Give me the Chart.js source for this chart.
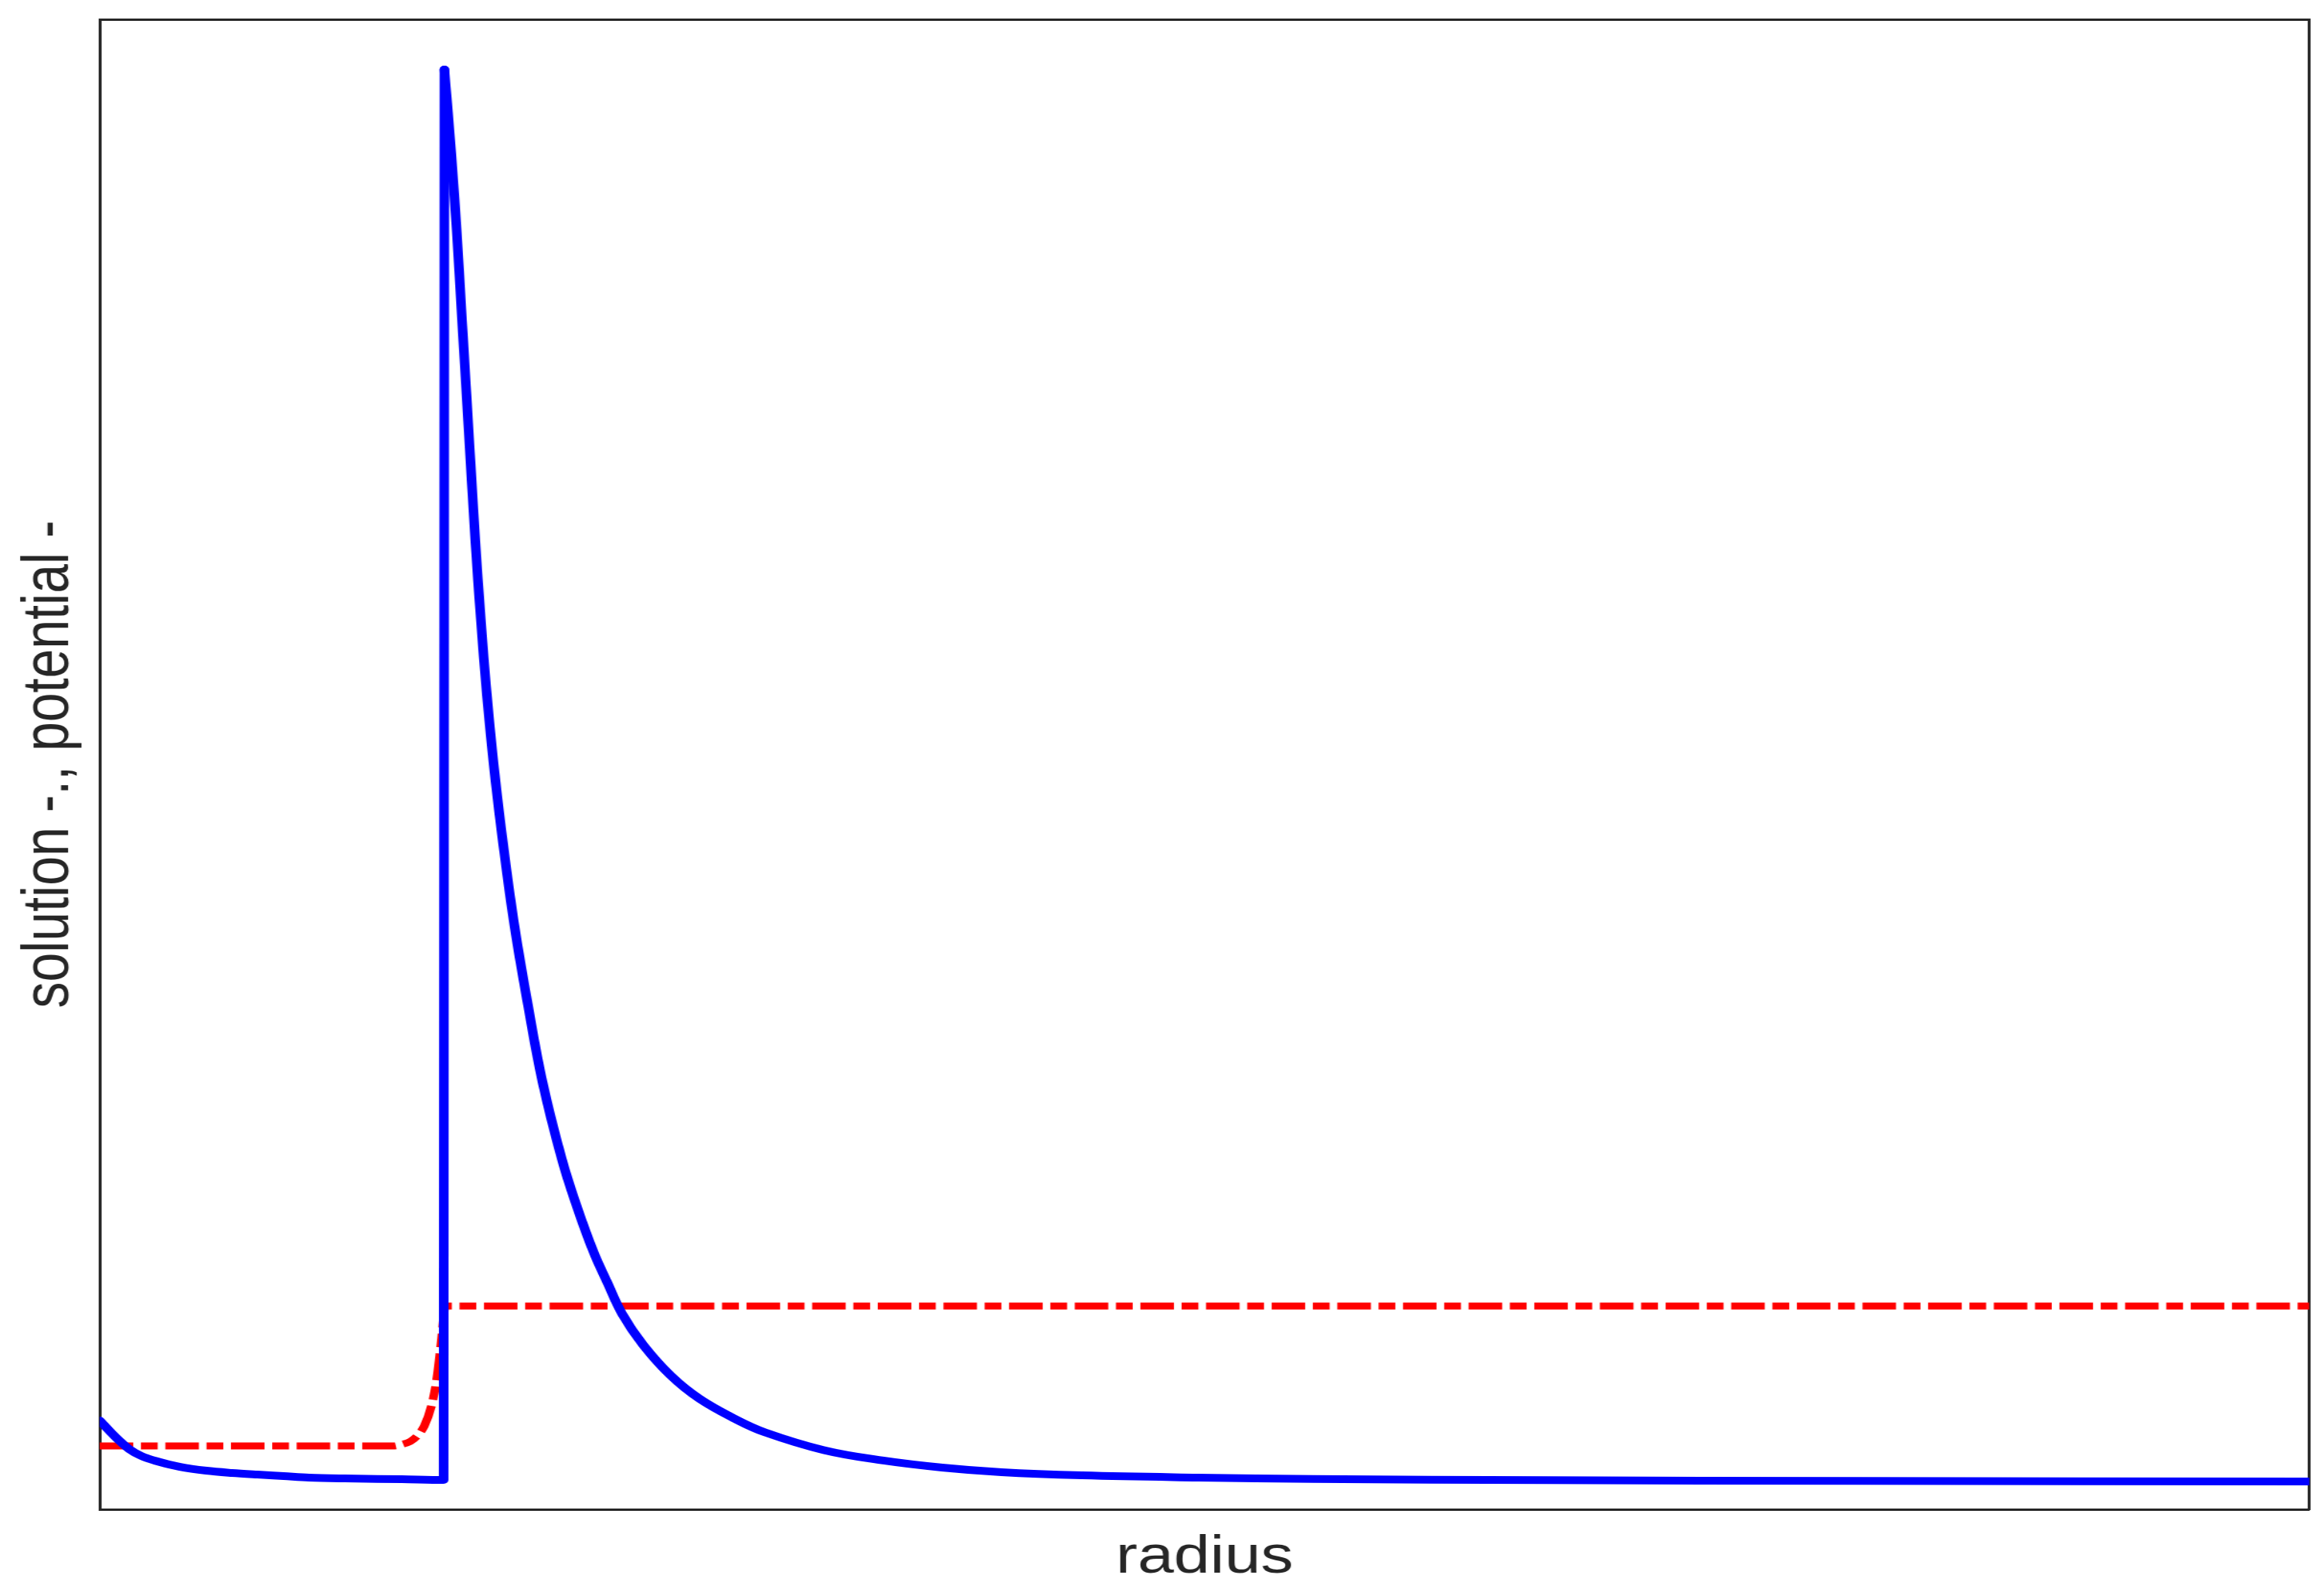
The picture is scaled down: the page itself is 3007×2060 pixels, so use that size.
<!DOCTYPE html>
<html>
<head>
<meta charset="utf-8">
<script src="https://cdn.jsdelivr.net/npm/chart.js@4.4.1/dist/chart.umd.min.js"></script>
<style>
  html, body { margin: 0; padding: 0; background: #ffffff; overflow: hidden; }
  /* the original figure is stretched sideways, so draw narrower and scale in x */
  #wrap { position: absolute; left: 0; top: 0; width: 2425px; height: 2060px;
          transform: scaleX(1.24); transform-origin: 0 0; }
</style>
</head>
<body>
<div id="wrap"><canvas id="chart"></canvas></div>
<script>
// Solution curve (blue, solid), inside r < 5: slow dip, then the jump up
const radiusInner = [0, 0.235, 0.425, 0.604, 0.795, 1.164, 1.545, 1.914, 2.283, 2.664,
  3.033, 3.548, 4.376, 4.981, 4.992];
const solutionInner = [0.596, 0.482, 0.405, 0.358, 0.327, 0.285, 0.259, 0.244, 0.233, 0.223,
  0.213, 0.207, 0.202, 0.197, 9.663];

// Solution curve outside: decay from the peak
const radiusOuter = [4.992, 5.093, 5.171, 5.238, 5.305, 5.372, 5.44, 5.518, 5.608, 5.719, 5.854,
  6.01, 6.201, 6.413, 6.693, 6.906, 7.152, 7.354, 7.566, 7.868, 8.271,
  8.686, 9.2, 9.637, 10.488, 11.35, 12.2, 13.062, 14.226, 15.905, 17.584,
  20.942, 25.419, 32];
const solutionOuter = [9.663, 9.092, 8.574, 8.055, 7.536, 7.018, 6.499, 5.980, 5.462, 4.943, 4.424,
  3.906, 3.387, 2.868, 2.350, 2.038, 1.727, 1.520, 1.312, 1.105, 0.897,
  0.742, 0.607, 0.516, 0.397, 0.327, 0.280, 0.249, 0.228, 0.213, 0.203,
  0.196, 0.190, 0.187];

// Potential curve (red, dash-dot)
const radiusPotential = [0, 4.253, 4.376, 4.5, 4.6, 4.701, 4.802, 4.88, 4.947, 4.992, 5.0, 32];
const potential = [0.425, 0.425, 0.436, 0.456, 0.493, 0.560, 0.690, 0.871, 1.131, 1.338, 1.364, 1.364];

const axisColor = '#262626';
const labelFont = { family: '"Liberation Sans", Arial, Helvetica, sans-serif', size: 68 };

function toPoints(xs, ys) {
  let pts = [];
  for (let i = 0; i < xs.length; i++) {
    pts.push({ x: xs[i], y: ys[i] });
  }
  return pts;
}

// Axis with a border line only (used to close the box on top and right)
function frameAxis(position, size) {
  return {
    type: 'linear',
    position: position,
    min: 0,
    max: 1,
    grid: { display: false },
    ticks: { display: false },
    border: { display: true, color: axisColor, width: 3 },
    afterFit: function(scale) {
      if (position === 'top') scale.height = size;
      else scale.width = size;
    }
  };
}

new Chart(document.getElementById('chart'), {
  type: 'line',
  data: {
    datasets: [
      {
        label: 'solution',
        data: toPoints(radiusInner, solutionInner),
        borderColor: '#0000ff',
        borderWidth: 10,
        borderJoinStyle: 'round',
        borderCapStyle: 'round',
        pointRadius: 0,
        cubicInterpolationMode: 'monotone',
        fill: false
      },
      {
        label: 'solution (outside)',
        data: toPoints(radiusOuter, solutionOuter),
        borderColor: '#0000ff',
        borderWidth: 10,
        borderJoinStyle: 'round',
        borderCapStyle: 'round',
        pointRadius: 0,
        tension: 0.4,
        fill: false
      },
      {
        label: 'potential',
        data: toPoints(radiusPotential, potential),
        borderColor: '#ff0000',
        borderWidth: 9,
        borderDash: [35, 8, 17.5, 8],
        borderCapStyle: 'butt',
        pointRadius: 0,
        cubicInterpolationMode: 'monotone',
        fill: false
      }
    ]
  },
  options: {
    responsive: true,
    maintainAspectRatio: false,
    animation: false,
    events: [],
    layout: { padding: 0 },
    plugins: {
      legend: { display: false },
      tooltip: { enabled: false }
    },
    scales: {
      x: {
        type: 'linear',
        position: 'bottom',
        min: 0,
        max: 32,
        grid: { display: false },
        ticks: { display: false },
        border: { display: true, color: axisColor, width: 3 },
        title: {
          display: true,
          text: 'radius',
          color: axisColor,
          font: labelFont,
          padding: { top: 0, bottom: 3 }
        },
        afterFit: function(scale) { scale.height = 107; }
      },
      y: {
        type: 'linear',
        position: 'left',
        min: 0,
        max: 10,
        grid: { display: false },
        ticks: { display: false },
        border: { display: true, color: axisColor, width: 3 },
        title: {
          display: true,
          text: 'solution -., potential -',
          color: axisColor,
          font: labelFont,
          padding: { top: 11, bottom: 0 }
        },
        afterFit: function(scale) { scale.width = 104; }
      },
      x2: frameAxis('top', 25),
      y2: frameAxis('right', 15.3)
    }
  }
});
</script>
</body>
</html>
